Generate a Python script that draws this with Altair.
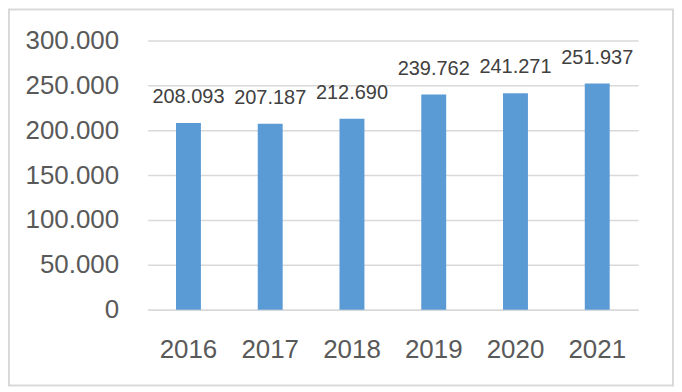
import altair as alt
import pandas as pd

years = ["2016", "2017", "2018", "2019", "2020", "2021"]
values = [208093, 207187, 212690, 239762, 241271, 251937]
y_ticks = [0, 50000, 100000, 150000, 200000, 250000, 300000]

df = pd.DataFrame({"year": years, "value": values})

FONT = "Liberation Sans"
BLUE = "#5B9BD5"
GRID = "#D9D9D9"

x_enc = alt.X("year:N", sort=years, title=None,
              scale=alt.Scale(paddingInner=0.695, paddingOuter=0.3475),
              axis=alt.Axis(labelAngle=0, labelFont=FONT, labelFontSize=26,
                            labelColor="#595959", ticks=False, domainColor=GRID,
                            domainWidth=1.5, labelPadding=27))
y_enc = alt.Y("value:Q", title=None,
              scale=alt.Scale(domain=[0, 300000], nice=False),
              axis=alt.Axis(values=y_ticks, domain=False, ticks=False,
                            labelFont=FONT, labelFontSize=26, labelColor="#595959",
                            labelPadding=29, gridColor=GRID, gridWidth=1.5,
                            labelExpr="replace(format(datum.value, ','), ',', '.')"))

base = alt.Chart(df)
bars = base.mark_bar(color=BLUE).encode(x=x_enc, y=y_enc)
labels = base.transform_calculate(
    label="replace(format(datum.value, ','), ',', '.')"
).mark_text(dy=-20, baseline="alphabetic", font=FONT, fontSize=20,
            color="#404040").encode(x=alt.X("year:N", sort=years), y="value:Q",
                                     text="label:N")

border = alt.Chart(pd.DataFrame({"a": [0]})).mark_rect(
    fill=None, stroke=GRID, strokeWidth=2
).encode(x=alt.value(-139), x2=alt.value(527), y=alt.value(-31), y2=alt.value(346))

chart = alt.layer(bars, labels, border).properties(
    width=492, height=270,
    autosize=alt.AutoSizeParams(type="none"),
    padding={"left": 140, "top": 32, "right": 36, "bottom": 77},
    background="white",
).configure_view(stroke=None)

chart.save("out.html", embed_options={"renderer": "svg", "actions": False})
